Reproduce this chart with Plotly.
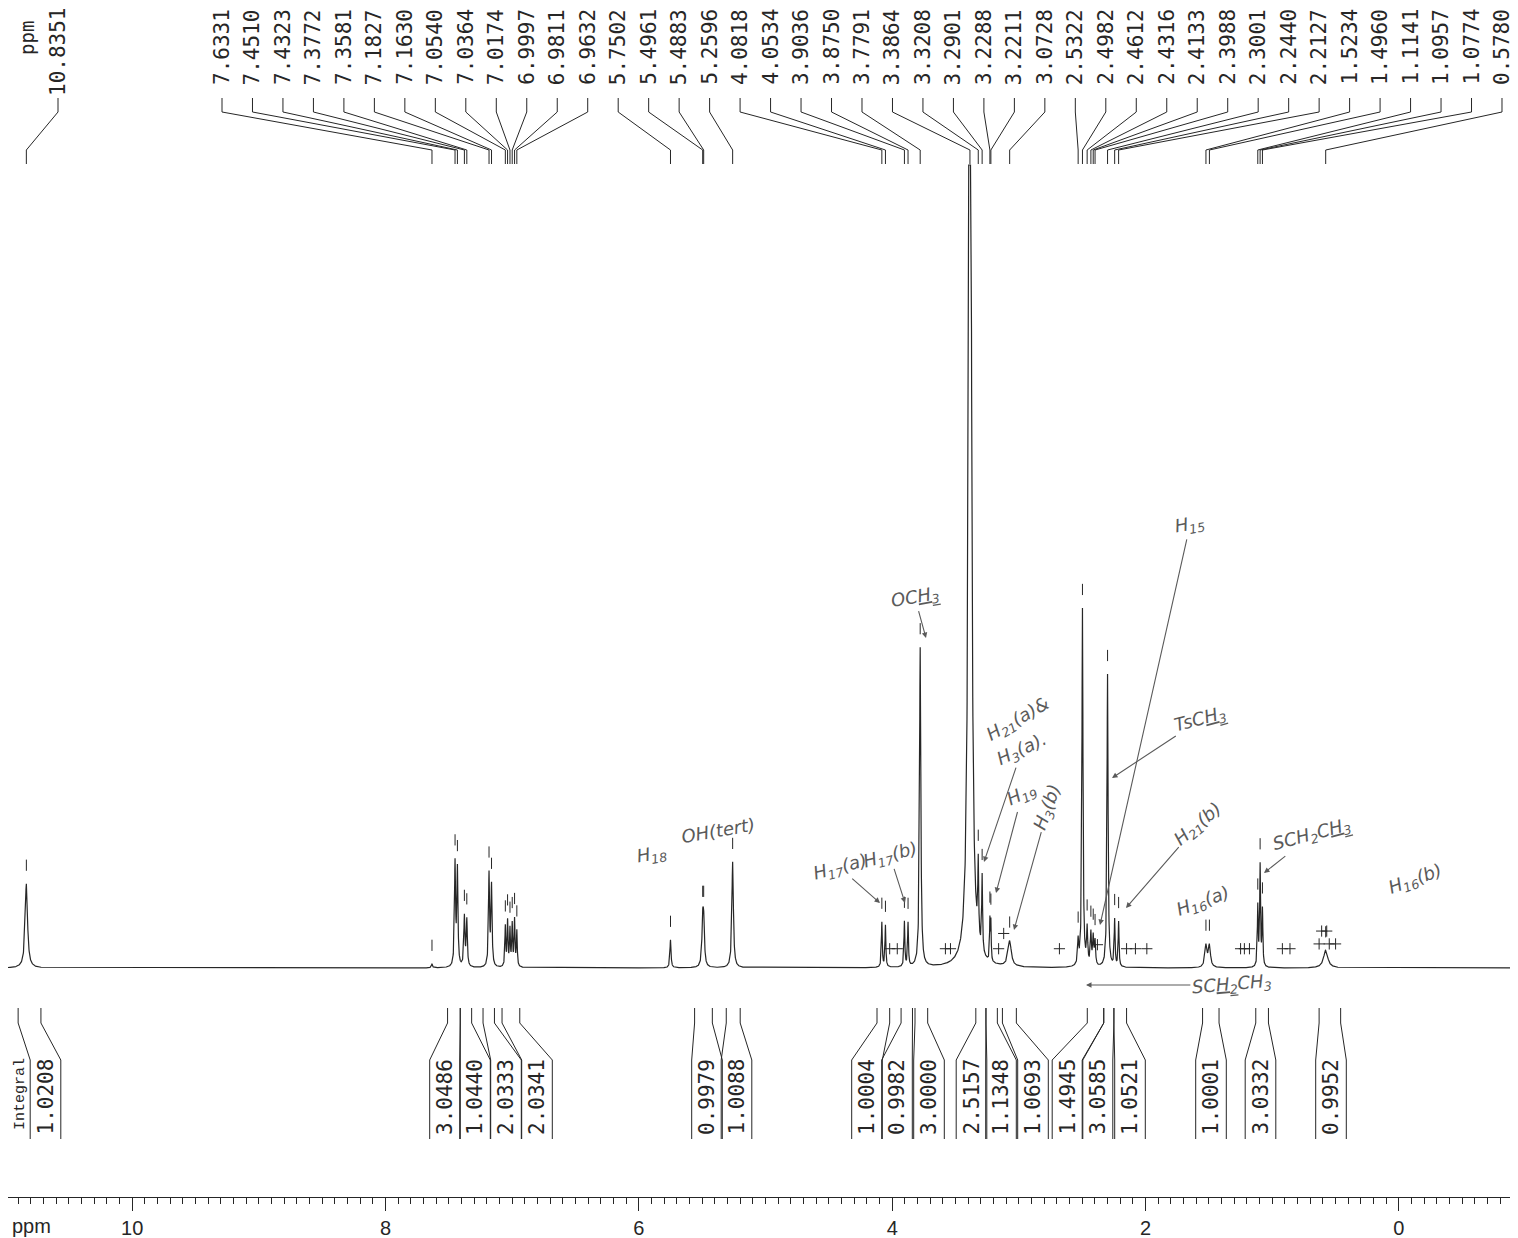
import numpy as np
import plotly.graph_objects as go

# ---------------- data ----------------
peak_ppm = [10.8351, 7.6331, 7.4510, 7.4323, 7.3772, 7.3581, 7.1827, 7.1630, 7.0540, 7.0364,
            7.0174, 6.9997, 6.9811, 6.9632, 5.7502, 5.4961, 5.4883, 5.2596, 4.0818, 4.0534,
            3.9036, 3.8750, 3.7791, 3.3864, 3.3208, 3.2901, 3.2288, 3.2211, 3.0728, 2.5322,
            2.4982, 2.4612, 2.4316, 2.4133, 2.3988, 2.3001, 2.2440, 2.2127, 1.5234, 1.4960,
            1.1141, 1.0957, 1.0774, 0.5780]
peak_height = [10.5, 0.5, 12.8, 12.0, 6.2, 5.8, 11.5, 10.0, 5.0, 5.6,
               4.6, 5.2, 5.8, 4.4, 3.5, 5.0, 5.0, 13.2, 5.6, 5.2,
               5.6, 5.4, 39.8, 200.0, 9.5, 9.5, 5.0, 4.8, 3.2, 3.0,
               44.6, 4.5, 4.0, 3.5, 3.0, 36.5, 5.8, 5.6, 2.7, 2.7,
               7.5, 12.5, 7.0, 2.2]
peak_fwhm = [0.022, 0.010, 0.010, 0.010, 0.010, 0.010, 0.010, 0.010, 0.008, 0.008,
             0.008, 0.008, 0.008, 0.008, 0.010, 0.014, 0.014, 0.014, 0.008, 0.008,
             0.008, 0.008, 0.012, 0.020, 0.008, 0.008, 0.006, 0.006, 0.030, 0.010,
             0.010, 0.010, 0.010, 0.010, 0.010, 0.010, 0.008, 0.008, 0.020, 0.020,
             0.008, 0.008, 0.008, 0.040]
peak_labels = ["%.4f" % v for v in peak_ppm]

integral_values = ["1.0208", "3.0486", "1.0440", "2.0333", "2.0341", "0.9979", "1.0088",
                   "1.0004", "0.9982", "3.0000", "2.5157", "1.1348", "1.0693", "1.4945",
                   "3.0585", "1.0521", "1.0001", "3.0332", "0.9952"]
integral_from = [10.90, 7.51, 7.41, 7.23, 7.08, 5.56, 5.31, 4.12, 3.93, 3.82, 3.34, 3.26,
                 3.13, 2.46, 2.33, 2.25, 1.55, 1.13, 0.63]
integral_to = [10.72, 7.41, 7.32, 7.14, 6.94, 5.42, 5.20, 4.02, 3.84, 3.72, 3.26, 3.17,
               3.02, 2.33, 2.25, 2.15, 1.42, 1.03, 0.46]

# excluded peak-pick marks ("+")
plus_ppm = [4.02, 3.96, 3.58, 3.54, 3.16, 3.12, 2.68, 2.38, 2.15, 2.08, 1.99,
            1.25, 1.22, 1.18, 0.92, 0.86, 0.63, 0.55, 0.50, 0.61, 0.57]
plus_level = [2.4, 2.4, 2.4, 2.4, 2.4, 4.3, 2.4, 2.9, 2.4, 2.4, 2.4,
              2.4, 2.4, 2.4, 2.4, 2.4, 3.0, 3.0, 3.0, 4.6, 4.6]

tick_vals = [10, 8, 6, 4, 2, 0]

# ---------------- geometry (page pixels; the page body adds an 8 px margin) ----------------
OFF = 8
W, H = 1518 - OFF, 1238 - OFF          # figure size
PLOT_BOTTOM_PAGE = 1197                # page row of the axis line
PLOT_H = PLOT_BOTTOM_PAGE - OFF        # plot area height (top margin 0)
B_M = H - PLOT_H
X0, X1 = 10.98, -0.94                  # ppm at left / right edge
BASE_PX, TOP_PX = 968, 165             # page rows of intensity 0 and 100
upp = 100.0 / (BASE_PX - TOP_PX)
Y_LO = -(PLOT_BOTTOM_PAGE - BASE_PX) * upp
Y_HI = 100 + (TOP_PX - OFF) * upp


def xp(p):
    return (p - OFF) / W


def yp(p):
    return (PLOT_BOTTOM_PAGE - p) / PLOT_H


def xv(v):
    return (X0 - v) / (X0 - X1)


INK = "#262626"
HAND = "#5a5a5a"
MONO = "DejaVu Sans Mono, Liberation Mono, monospace"

# ---------------- spectrum (Lorentzian line shapes of picked peaks) ----------------
grid = np.union1d(np.linspace(X1, X0, 12001), np.array(peak_ppm))
spec = np.zeros_like(grid)
for c, h, w in zip(peak_ppm, peak_height, peak_fwhm):
    g = w / 2.0
    spec += h * g * g / ((grid - c) ** 2 + g * g)
spec_plot = np.minimum(spec, 100.0)

fig = go.Figure()
fig.add_trace(go.Scatter(x=grid, y=spec_plot, mode="lines",
                         line=dict(color=INK, width=1.2), hoverinfo="skip",
                         showlegend=False))

# "|" peak-pick marks above each picked peak
pk = np.array(peak_ppm)
top_at = np.interp(pk, grid, spec)
mask = top_at < 95
fig.add_trace(go.Scatter(x=pk[mask], y=top_at[mask] + 2.3, mode="markers",
                         marker=dict(symbol="line-ns", size=8,
                                     line=dict(width=1, color=INK)),
                         hoverinfo="skip", showlegend=False))
# "+" marks
fig.add_trace(go.Scatter(x=plus_ppm, y=plus_level, mode="markers",
                         marker=dict(symbol="cross-thin", size=8,
                                     line=dict(width=1, color=INK)),
                         hoverinfo="skip", showlegend=False))

shapes = []
annotations = []

# ---------------- top peak labels with leader lines ----------------
label_px = [58] + [222 + 30.476 * i for i in range(len(peak_ppm) - 1)]
label_cy = [52] + [47] * (len(peak_ppm) - 1)
for lx, ly, v, t in zip(label_px, label_cy, peak_ppm, peak_labels):
    shapes.append(dict(type="path", xref="paper", yref="paper",
                       path=f"M {xp(lx)},{yp(98)} L {xp(lx)},{yp(112)} "
                            f"L {xv(v)},{yp(150)} L {xv(v)},{yp(164)}",
                       line=dict(color=INK, width=1)))
    annotations.append(dict(x=xp(lx), y=yp(ly), xref="paper", yref="paper",
                            text=t, textangle=-90, showarrow=False,
                            xanchor="center", yanchor="middle",
                            font=dict(family=MONO, size=21, color=INK)))
annotations.append(dict(x=xp(27), y=yp(38), xref="paper", yref="paper",
                        text="ppm", textangle=-90, showarrow=False,
                        xanchor="center", yanchor="middle",
                        font=dict(family=MONO, size=19, color=INK)))

# ---------------- integrals ----------------
box_center = [45.5, 445, 475, 506, 537, 707, 736.5, 867, 897, 929, 971.5, 1001,
              1033, 1067.5, 1097.5, 1130, 1211, 1260.5, 1331]
HALF = 15.3
for cx, a, b, t in zip(box_center, integral_from, integral_to, integral_values):
    for v, bx in ((a, cx - HALF), (b, cx + HALF)):
        shapes.append(dict(type="path", xref="paper", yref="paper",
                           path=f"M {xv(v)},{yp(1008)} L {xv(v)},{yp(1023)} "
                                f"L {xp(bx)},{yp(1060)} L {xp(bx)},{yp(1139)}",
                           line=dict(color=INK, width=1)))
    annotations.append(dict(x=xp(cx), y=yp(1097), xref="paper", yref="paper",
                            text=t, textangle=-90, showarrow=False,
                            xanchor="center", yanchor="middle",
                            font=dict(family=MONO, size=21, color=INK)))
annotations.append(dict(x=xp(20), y=yp(1094), xref="paper", yref="paper",
                        text="Integral", textangle=-90, showarrow=False,
                        xanchor="center", yanchor="middle",
                        font=dict(family="Liberation Mono, monospace", size=15,
                                  color=INK)))

# bottom-left axis unit
annotations.append(dict(x=xp(10), y=yp(1226), xref="paper", yref="paper",
                        text="ppm", showarrow=False, xanchor="left",
                        yanchor="middle",
                        font=dict(family="Liberation Sans Narrow, Liberation Sans, Arial",
                                  size=20, color=INK)))

# ---------------- handwritten notes ----------------
notes = [
    ("OC<u>H<sub>3</sub></u>", 915, 598, -10, (926, 638)),
    ("H<sub>18</sub>", 652, 855, -10, None),
    ("OH(tert)", 718, 830, -10, None),
    ("H<sub>17</sub>(a)", 840, 868, -15, (880, 903)),
    ("H<sub>17</sub>(b)", 890, 856, -15, (905, 903)),
    ("H<sub>21</sub>(a)&amp;", 1018, 720, -30, None),
    ("H<sub>3</sub>(a).", 1022, 750, -25, (984, 862)),
    ("H<sub>19</sub>", 1022, 795, -25, (996, 893)),
    ("H<sub>3</sub>(b)", 1048, 808, -70, (1014, 930)),
    ("H<sub>15</sub>", 1190, 525, -10, (1100, 925)),
    ("TsC<u>H<sub>3</sub></u>", 1200, 720, -15, (1112, 778)),
    ("H<sub>21</sub>(b)", 1198, 825, -40, (1126, 908)),
    ("H<sub>16</sub>(a)", 1203, 902, -20, None),
    ("SCH<sub>2</sub>C<u>H<sub>3</sub></u>", 1312, 835, -15, (1264, 873)),
    ("H<sub>16</sub>(b)", 1415, 880, -20, None),
    ("SC<u>H<sub>2</sub></u>CH<sub>3</sub>", 1232, 985, -5, (1086, 985)),
]
for t, tx, ty, ang, head in notes:
    base = dict(xref="paper", yref="paper", text=t, textangle=ang,
                font=dict(family="DejaVu Sans", size=18, color=HAND, style="italic"))
    if head is None:
        base.update(x=xp(tx), y=yp(ty), showarrow=False,
                    xanchor="center", yanchor="middle")
    else:
        base.update(x=xp(head[0]), y=yp(head[1]), showarrow=True,
                    ax=tx - head[0], ay=ty - head[1], axref="pixel", ayref="pixel",
                    arrowhead=2, arrowsize=1, arrowwidth=1.1, arrowcolor=HAND)
    annotations.append(base)

fig.update_layout(
    width=W, height=H,
    margin=dict(l=0, r=0, t=0, b=B_M),
    paper_bgcolor="white", plot_bgcolor="white",
    showlegend=False,
    shapes=shapes, annotations=annotations,
    xaxis=dict(range=[X0, X1], showgrid=False, zeroline=False,
               showline=True, linecolor=INK, linewidth=1.2,
               ticks="outside", ticklen=13, tickwidth=1, tickcolor=INK,
               tickvals=tick_vals, ticktext=[str(v) for v in tick_vals],
               tickfont=dict(family="Liberation Sans Narrow, Liberation Sans, Arial",
                             size=20, color=INK),
               minor=dict(dtick=0.1, ticks="outside", ticklen=6, tickwidth=1,
                          tickcolor=INK, showgrid=False),
               fixedrange=True),
    yaxis=dict(range=[Y_LO, Y_HI], visible=False, fixedrange=True),
)

fig.write_html("out.html")
